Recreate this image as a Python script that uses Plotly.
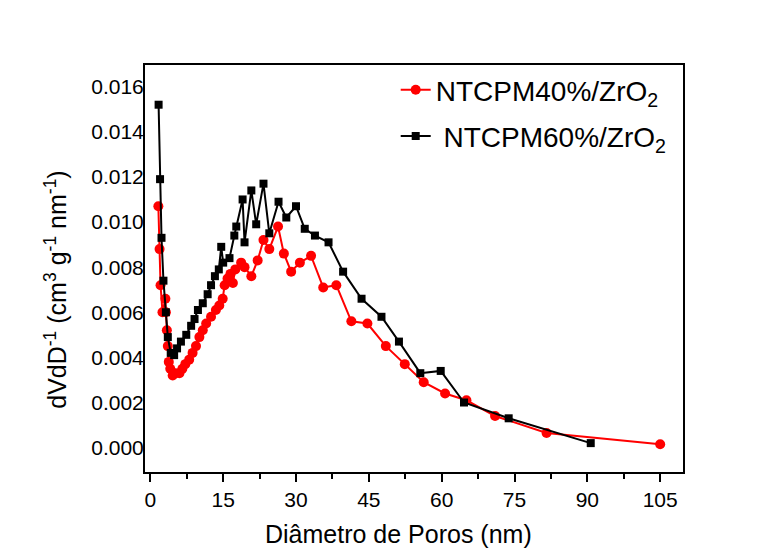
import plotly.graph_objects as go

# NTCPM40%/ZrO2 (red)
red_x = [1.65, 1.9, 2.1, 2.5, 3.1, 3.2, 3.4, 3.6, 3.8, 4.1, 4.6, 5.2, 6.0, 6.6, 7.2, 8.0, 8.7, 9.4,
         10.1, 10.8, 11.5, 12.5, 13.5, 14.2, 14.9, 15.3, 15.9, 16.5, 17.0, 17.5, 18.7, 19.4, 20.8,
         22.1, 23.3, 24.5, 26.3, 27.5, 29.0, 30.8, 33.1, 35.6, 38.3, 41.4, 44.7, 48.5, 52.4, 56.3,
         60.7, 65.1, 71.0, 81.6, 105.0]
red_y = [0.0107, 0.0088, 0.0072, 0.0060, 0.0066, 0.0060, 0.0052, 0.0045, 0.0038, 0.0035, 0.0032,
         0.0033, 0.0033, 0.0035, 0.0037, 0.0039, 0.0042, 0.0045, 0.0049, 0.0052, 0.0055, 0.0058,
         0.0061, 0.0063, 0.0066, 0.0072, 0.0075, 0.0077, 0.0073, 0.0079, 0.0082, 0.0080, 0.0076,
         0.0083, 0.0092, 0.0088, 0.0098, 0.0086, 0.0078, 0.0082, 0.0085, 0.0071, 0.0072, 0.0056,
         0.0055, 0.0045, 0.0037, 0.0029, 0.0024, 0.0021, 0.0014, 0.00065, 0.00015]

# NTCPM60%/ZrO2 (black)
blk_x = [1.7, 2.0, 2.3, 2.7, 3.2, 3.6, 4.2, 4.9, 5.5, 6.3, 7.4, 8.4, 9.1, 9.8, 10.8, 11.8, 12.5,
         13.3, 14.1, 14.6, 15.0, 16.3, 17.3, 17.7, 19.0, 19.4, 20.8, 21.8, 23.3, 24.5, 26.4, 28.0,
         30.0, 31.8, 33.9, 36.7, 39.7, 43.5, 47.6, 51.2, 55.6, 59.8, 64.6, 73.8, 90.7]
blk_y = [0.0152, 0.0119, 0.0093, 0.0074, 0.0060, 0.0049, 0.0042, 0.0041, 0.0044, 0.0047, 0.0050,
         0.0054, 0.0057, 0.0061, 0.0064, 0.0068, 0.0072, 0.0076, 0.0079, 0.0089, 0.0082, 0.0084,
         0.0094, 0.0098, 0.0110, 0.0091, 0.0114, 0.0099, 0.0117, 0.0095, 0.0109, 0.0102, 0.0107,
         0.0097, 0.0094, 0.0091, 0.0078, 0.0066, 0.0058, 0.0047, 0.0033, 0.0034, 0.0020, 0.0013,
         0.0002]

x_ticks = [0, 15, 30, 45, 60, 75, 90, 105]
y_ticks = [0.000, 0.002, 0.004, 0.006, 0.008, 0.010, 0.012, 0.014, 0.016]

x_title = "Diâmetro de Poros (nm)"
y_title = "dVdD<sup>-1</sup> (cm<sup>3</sup> g<sup>-1</sup> nm<sup>-1</sup>)"

FONT = "Arial, Liberation Sans, sans-serif"

fig = go.Figure()
fig.add_trace(go.Scatter(
    x=red_x, y=red_y, mode="lines+markers", name="NTCPM40%/ZrO<sub>2</sub>",
    legendgroup="a",
    line=dict(color="#ff0000", width=2),
    marker=dict(symbol="circle", size=10, color="#ff0000"),
))
fig.add_trace(go.Scatter(
    x=blk_x, y=blk_y, mode="lines+markers", name=" NTCPM60%/ZrO<sub>2</sub>",
    legendgroup="b",
    line=dict(color="#000000", width=2),
    marker=dict(symbol="square", size=8, color="#000000"),
))

fig.update_layout(
    width=770, height=551,
    margin=dict(l=145, r=87, t=65, b=79),
    paper_bgcolor="white", plot_bgcolor="white",
    font=dict(family=FONT, color="black"),
    showlegend=True,
    legend=dict(x=0.466, y=1.0, xanchor="left", yanchor="top",
                font=dict(size=28, family=FONT, color="black"),
                bgcolor="rgba(0,0,0,0)", borderwidth=0, tracegroupgap=7),
    xaxis=dict(
        range=[-1.1, 109.7], tickmode="array", tickvals=x_ticks,
        ticktext=[str(v) for v in x_ticks],
        ticks="outside", ticklen=8, tickwidth=2, tickcolor="black",
        minor=dict(ticks="outside", ticklen=5, tickwidth=2, tickcolor="black", dtick=7.5, tick0=0),
        showline=True, linewidth=2, linecolor="black", mirror=True,
        showgrid=False, zeroline=False,
        tickfont=dict(size=21, family=FONT),
    ),
    yaxis=dict(
        range=[-0.00108, 0.01696], tickmode="array", tickvals=y_ticks,
        ticktext=["%.3f" % v for v in y_ticks],
        ticks="", ticklen=0, ticklabelstandoff=-5,
        showline=True, linewidth=2, linecolor="black", mirror=True,
        showgrid=False, zeroline=False,
        tickfont=dict(size=21, family=FONT),
    ),
    annotations=[
        dict(text=x_title, xref="paper", yref="paper", x=0.472, y=-0.152,
             xanchor="center", yanchor="middle", showarrow=False,
             font=dict(size=25, family=FONT, color="black")),
        dict(text=y_title, xref="paper", yref="paper", x=-0.166, y=0.447,
             xanchor="center", yanchor="middle", showarrow=False, textangle=-90,
             font=dict(size=25, family=FONT, color="black")),
    ],
)

fig.write_html("out.html")
